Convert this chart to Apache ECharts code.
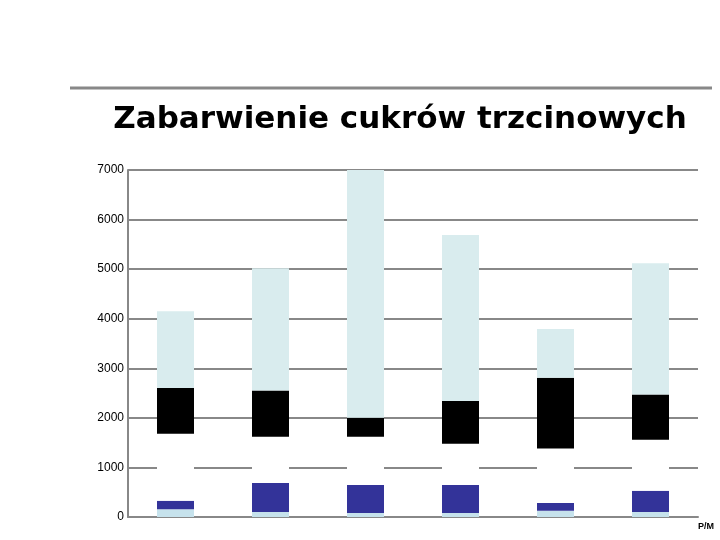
<!DOCTYPE html><html><head><meta charset="utf-8"><script src="https://cdn.jsdelivr.net/npm/echarts@6/dist/echarts.min.js"></script></head><body style="margin:0"><div id="c" style="width:720px;height:540px"></div><script>
const categories=['1','2','3','4','5','6'];
const bottomLight=[155,100,80,80,125,100];
const darkBlue=[175,585,565,565,155,430];
const gap=[1350,935,975,835,1100,1030];
const black=[920,930,380,860,1430,910];
const topLight=[1550,2470,5000,3350,980,2650];
const yTicks=[0,1000,2000,3000,4000,5000,6000,7000];
const mk=(name,data,color)=>({name,type:'bar',stack:'s',data,barWidth:37,itemStyle:{color},z:3});
const chart=echarts.init(document.getElementById('c'));
chart.setOption({
animation:false,backgroundColor:'#fff',
title:{text:'Zabarwienie cukrów trzcinowych',left:395,top:99,textAlign:'center',textStyle:{fontFamily:'DejaVu Sans',fontSize:31,fontWeight:'bold',color:'#000'}},
graphic:[{type:'line',shape:{x1:70,y1:88,x2:712,y2:88},style:{stroke:'#888',lineWidth:3}},
{type:'text',left:698,top:522,style:{text:'P/M',fontSize:9,fill:'#000',fontWeight:'bold'}}],
grid:{left:128,right:22,top:170,bottom:23},
xAxis:{type:'category',data:categories,axisLabel:{show:false},axisTick:{show:false},axisLine:{lineStyle:{color:'#888',width:2}}},
yAxis:{type:'value',min:0,max:7000,interval:1000,axisLine:{show:true,lineStyle:{color:'#888',width:2}},axisTick:{show:false},
axisLabel:{fontFamily:'Liberation Sans',fontSize:12,color:'#000',margin:4,formatter:v=>yTicks.includes(v)?String(v):''},
splitLine:{lineStyle:{color:'#888',width:2}}},
series:[mk('a',bottomLight,'#c6e2ec'),mk('b',darkBlue,'#333399'),mk('c',gap,'#ffffff'),mk('d',black,'#000000'),mk('e',topLight,'#d9ecee')]
});
</script></body></html>
